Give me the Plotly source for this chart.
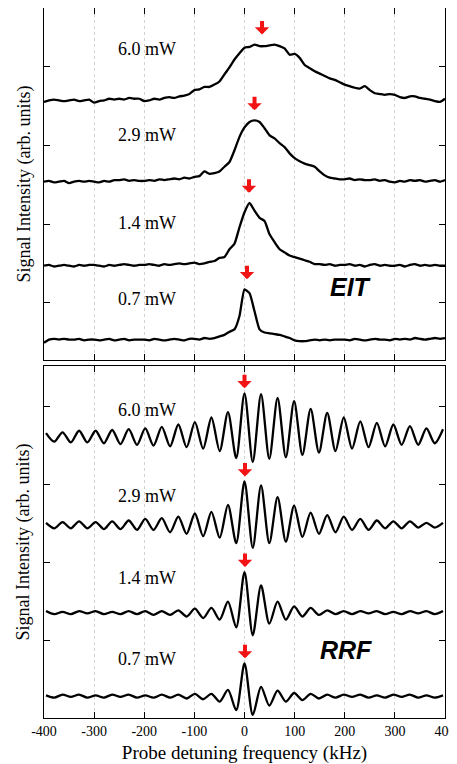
import plotly.graph_objects as go

# ---------------- data ----------------
X_TICKS = [-400, -300, -200, -100, 0, 100, 200, 300, 400]
X_TICK_LABELS = ["-400", "-300", "-200", "-100", "0", "100", "200", "300", "400"]
POWER_LABELS = ["6.0 mW", "2.9 mW", "1.4 mW", "0.7 mW"]

# EIT traces sampled every 10 kHz (signal above each trace's baseline)
EIT_X = list(range(-400, 401, 10))
EIT_60 = [0.00, 0.02, 0.03, 0.02, 0.01, 0.02, 0.03, 0.01, 0.02, 0.03,
          -0.01, 0.01, 0.02, 0.04, 0.03, 0.04, 0.03, 0.05, 0.04, 0.04,
          0.01, 0.02, 0.04, 0.03, 0.05, 0.06, 0.05, 0.07, 0.08, 0.10,
          0.15, 0.16, 0.19, 0.19, 0.22, 0.26, 0.35, 0.44, 0.54, 0.62,
          0.69, 0.70, 0.73, 0.71, 0.71, 0.72, 0.73, 0.71, 0.68, 0.60,
          0.61, 0.56, 0.47, 0.43, 0.39, 0.36, 0.33, 0.30, 0.28, 0.25,
          0.22, 0.20, 0.18, 0.17, 0.20, 0.15, 0.11, 0.10, 0.09, 0.10,
          0.09, 0.06, 0.05, 0.07, 0.07, 0.05, 0.04, 0.03, 0.01, 0.00,
          0.04]
EIT_29 = [0.00, 0.01, -0.01, 0.00, 0.01, -0.02, 0.00, 0.01, 0.00, 0.01,
          0.00, -0.01, 0.01, 0.00, 0.02, 0.02, 0.03, 0.01, 0.02, 0.01,
          0.01, 0.02, 0.01, 0.03, 0.02, 0.03, 0.04, 0.03, 0.05, 0.04,
          0.06, 0.07, 0.13, 0.10, 0.11, 0.13, 0.19, 0.25, 0.40, 0.57,
          0.69, 0.76, 0.78, 0.76, 0.68, 0.59, 0.55, 0.49, 0.44, 0.36,
          0.30, 0.26, 0.23, 0.21, 0.19, 0.13, 0.08, 0.05, 0.04, 0.03,
          0.03, 0.04, 0.02, 0.03, 0.02, 0.02, 0.03, 0.01, 0.02, 0.00,
          -0.01, 0.01, 0.00, 0.02, 0.01, 0.02, 0.00, 0.01, 0.02, 0.00,
          0.02]
EIT_14 = [0.00, 0.01, -0.01, 0.00, 0.01, 0.00, -0.01, 0.01, 0.00, 0.01,
          0.01, 0.00, -0.01, 0.01, 0.00, 0.01, 0.02, 0.01, 0.00, 0.01,
          0.01, 0.02, 0.01, 0.00, 0.02, 0.01, 0.02, 0.03, 0.02, 0.03,
          0.04, 0.02, 0.03, 0.05, 0.06, 0.10, 0.11, 0.21, 0.28, 0.49,
          0.68, 0.80, 0.70, 0.61, 0.57, 0.40, 0.30, 0.21, 0.17, 0.13,
          0.11, 0.09, 0.07, 0.05, 0.02, 0.02, 0.01, 0.02, 0.00, 0.01,
          0.01, 0.02, 0.00, 0.01, -0.01, 0.01, 0.02, 0.00, 0.01, 0.00,
          0.00, 0.01, -0.01, 0.01, 0.02, 0.00, 0.01, 0.00, 0.01, 0.00,
          0.00]
EIT_07 = [-0.03, 0.01, 0.02, 0.01, 0.02, 0.01, 0.01, 0.02, 0.00, 0.01,
          0.01, 0.00, 0.01, 0.02, 0.00, 0.01, 0.02, 0.00, 0.01, 0.01,
          0.01, 0.00, 0.02, 0.01, 0.00, 0.01, 0.02, 0.01, 0.00, 0.02,
          0.02, 0.01, 0.03, 0.02, 0.03, 0.05, 0.07, 0.11, 0.14, 0.31,
          0.65, 0.60, 0.37, 0.14, 0.10, 0.09, 0.08, 0.07, 0.05, 0.03,
          0.00, -0.01, -0.01, 0.00, 0.01, 0.00, 0.01, 0.00, 0.01, 0.01,
          0.01, 0.00, 0.02, 0.01, 0.00, 0.01, 0.02, 0.01, 0.01, 0.00,
          0.02, 0.01, 0.02, 0.01, 0.03, 0.02, 0.01, 0.02, 0.03, 0.02,
          0.03]
EIT_BASELINES = [3.555, 2.54, 1.47, 0.52]
EIT_LABEL_Y = [4.23, 3.13, 2.02, 1.05]
EIT_ARROW_X = [35, 20, 9, 5]

# RRF traces: values at successive extrema (every half period, 16.5 kHz)
RRF_X = [round(-396 + 16.5 * i, 1) for i in range(49)]
RRF_60 = [0.06, -0.05, 0.07, -0.06, 0.09, -0.06, 0.09, -0.07, 0.10, -0.08,
          0.11, -0.09, 0.12, -0.10, 0.14, -0.11, 0.17, -0.12, 0.20, -0.14,
          0.26, -0.17, 0.33, -0.26, 0.57, -0.31, 0.56, -0.27, 0.51, -0.25,
          0.47, -0.22, 0.37, -0.19, 0.32, -0.17, 0.26, -0.14, 0.21, -0.12,
          0.19, -0.11, 0.17, -0.09, 0.15, -0.09, 0.12, -0.07, 0.11]
RRF_29 = [0.03, -0.04, 0.04, -0.04, 0.05, -0.04, 0.04, -0.05, 0.05, -0.05,
          0.06, -0.06, 0.08, -0.06, 0.09, -0.09, 0.11, -0.11, 0.15, -0.14,
          0.17, -0.16, 0.26, -0.23, 0.56, -0.29, 0.51, -0.23, 0.36, -0.21,
          0.25, -0.15, 0.16, -0.11, 0.13, -0.09, 0.11, -0.06, 0.08, -0.06,
          0.06, -0.04, 0.05, -0.04, 0.05, -0.03, 0.03, -0.03, 0.03]
RRF_14 = [0.02, -0.02, 0.01, -0.02, 0.02, -0.01, 0.02, -0.02, 0.01, -0.02,
          0.02, -0.02, 0.02, -0.03, 0.02, -0.03, 0.03, -0.05, 0.05, -0.07,
          0.06, -0.09, 0.14, -0.19, 0.52, -0.29, 0.35, -0.14, 0.14, -0.09,
          0.08, -0.05, 0.06, -0.03, 0.03, -0.02, 0.02, -0.02, 0.02, -0.01,
          0.02, -0.02, 0.01, -0.02, 0.02, -0.01, 0.02, -0.02, 0.02]
RRF_07 = [0.01, -0.02, 0.02, -0.01, 0.02, -0.02, 0.01, -0.02, 0.02, -0.01,
          0.02, -0.02, 0.01, -0.02, 0.02, -0.02, 0.02, -0.03, 0.03, -0.04,
          0.03, -0.07, 0.08, -0.18, 0.42, -0.24, 0.12, -0.12, 0.07, -0.07,
          0.04, -0.05, 0.03, -0.03, 0.02, -0.02, 0.02, -0.01, 0.02, -0.02,
          0.01, -0.02, 0.02, -0.01, 0.02, -0.02, 0.01, -0.02, 0.01]
RRF_BASELINES = [3.60, 2.48, 1.36, 0.29]
RRF_LABEL_Y = [3.96, 2.86, 1.80, 0.77]
RRF_ARROW_X = [0, 1, 1, 1]

EIT_SIGNALS = [EIT_60, EIT_29, EIT_14, EIT_07]
RRF_SIGNALS = [RRF_60, RRF_29, RRF_14, RRF_07]

# ---------------- figure ----------------
fig = go.Figure()
SERIF = "Liberation Serif"
RED = "#f21414"

annotations = []

def add_panel(xs, signals, baselines, label_y, arrow_x, xa, ya, shape, smooth, arrow_shift):
    for sig, base, ly, axx, lab in zip(signals, baselines, label_y, arrow_x, POWER_LABELS):
        ys = [base + v for v in sig]
        fig.add_trace(go.Scatter(x=xs, y=ys, mode="lines", xaxis=xa, yaxis=ya,
                                 line=dict(color="black", width=2.3, shape=shape, smoothing=smooth),
                                 hoverinfo="skip"))
        annotations.append(dict(x=-195, y=ly, xref=xa, yref=ya, text=lab, showarrow=False,
                                font=dict(family=SERIF, size=18, color="black")))
        annotations.append(dict(x=axx, y=max(ys), xref=xa, yref=ya, text="", showarrow=True,
                                ax=0, ay=-15, axref="pixel", ayref="pixel",
                                arrowhead=1, arrowwidth=4, arrowsize=0.6, arrowcolor=RED,
                                yshift=arrow_shift))

add_panel(EIT_X, EIT_SIGNALS, EIT_BASELINES, EIT_LABEL_Y, EIT_ARROW_X, "x", "y", "spline", 0.5, 10)
add_panel(RRF_X, RRF_SIGNALS, RRF_BASELINES, RRF_LABEL_Y, RRF_ARROW_X, "x2", "y2", "spline", 0.8, 5)

annotations.append(dict(x=213, y=1.20, xref="x", yref="y", text="<b><i>EIT</i></b>",
                        showarrow=False, font=dict(family="Liberation Sans", size=25, color="black")))
annotations.append(dict(x=203, y=0.88, xref="x2", yref="y2", text="<b><i>RRF</i></b>",
                        showarrow=False, font=dict(family="Liberation Sans", size=25, color="black")))

TOP_DOMAIN = [0.5042, 1.0]
BOT_DOMAIN = [0.0, 0.4958]
for dom in (TOP_DOMAIN, BOT_DOMAIN):
    annotations.append(dict(x=-0.051, y=(dom[0] + dom[1]) / 2, xref="paper", yref="paper",
                            text="Signal Intensity (arb. units)", textangle=-90, showarrow=False,
                            xanchor="center", yanchor="middle",
                            font=dict(family=SERIF, size=18, color="black")))

xcommon = dict(range=[-400, 400], tickvals=X_TICKS, ticks="inside", ticklen=6, tickwidth=1,
               tickcolor="black", showline=True, linecolor="black", linewidth=1, mirror="ticks",
               showgrid=True, gridcolor="#d2d2d2", griddash="dot", gridwidth=1, zeroline=False)
ycommon = dict(tickvals=[1, 2, 3, 4], ticks="inside", ticklen=6, tickwidth=1, tickcolor="black",
               showline=True, linecolor="black", linewidth=1, mirror="ticks", showgrid=False,
               zeroline=False, showticklabels=False)

# page body has an 8 px margin, so the figure is sized to fit the 457x764 window
fig.update_layout(
    width=449, height=756,
    margin=dict(l=36, r=12, t=0, b=46),
    plot_bgcolor="white", paper_bgcolor="white",
    showlegend=False,
    font=dict(family=SERIF, color="black"),
    xaxis=dict(**xcommon, anchor="y", domain=[0, 1], showticklabels=False),
    xaxis2=dict(**xcommon, anchor="y2", domain=[0, 1], ticktext=X_TICK_LABELS,
                ticklabeloverflow="allow",
                tickfont=dict(family=SERIF, size=14, color="black"),
                title=dict(text="Probe detuning frequency (kHz)", standoff=8,
                           font=dict(family=SERIF, size=19, color="black"))),
    yaxis=dict(**ycommon, anchor="x", domain=TOP_DOMAIN, range=[0.27, 4.75]),
    yaxis2=dict(**ycommon, anchor="x2", domain=BOT_DOMAIN, range=[0.01, 4.52]),
    annotations=annotations,
)

fig.write_html("out.html")
